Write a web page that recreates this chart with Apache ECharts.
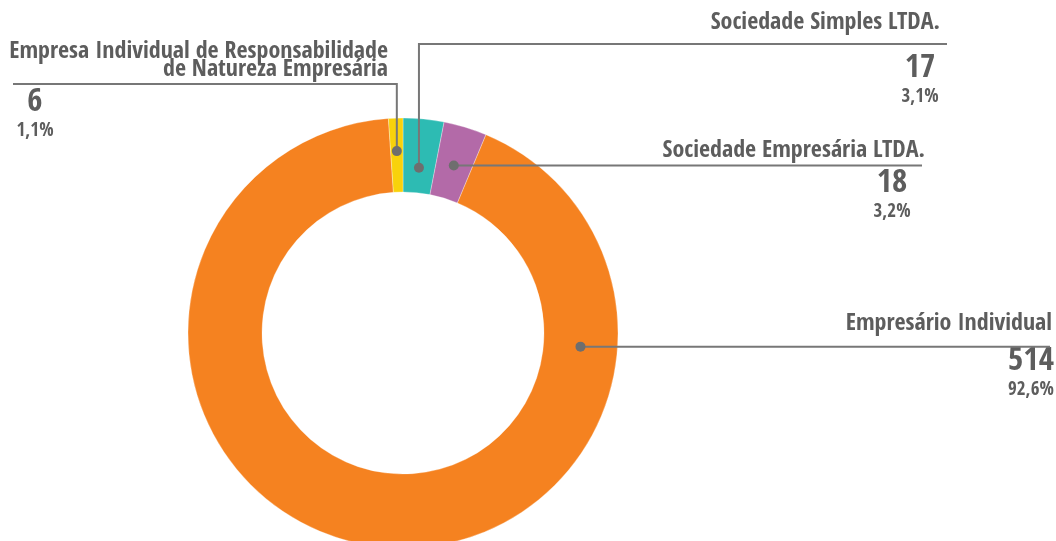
<!DOCTYPE html>
<html>
<head>
<meta charset="utf-8">
<script src="https://cdn.jsdelivr.net/npm/echarts@6/dist/echarts.min.js"></script>
<style>
    html, body { margin: 0; background: #fff; }
    #main { width: 1056px; height: 541px; }
</style>
</head>
<body>
<div id="main"></div>
<script>
// dados do gráfico
var categories = [
    'Sociedade Simples LTDA.',
    'Sociedade Empresária LTDA.',
    'Empresário Individual',
    'Empresa Individual de Responsabilidade\nde Natureza Empresária'
];
var values = [17, 18, 514, 6];
var colors = ['#2dbbb3', '#b36aa8', '#f58220', '#f8d20b'];

// posição das chamadas (só estilo)
var cx = 403, cy = 333, rOut = 215, rIn = 141;
var callouts = [
    { dotR: 166, bendY: 44, endX: 947, nameX: 940, nameY: 23, nameLH: 24, valX: 920, valY: 52 },
    { dotR: 175, endX: 922, nameX: 925, nameY: 151, nameLH: 24, valX: 892, valY: 167 },
    { dotR: 178, angle: 94.4, endX: 1050, nameX: 1052, nameY: 323.5, nameLH: 24, valX: 1031, valY: 345 },
    { dotR: 182, bendY: 84, endX: 13, nameX: 388, nameY: 61, nameLH: 18, valX: 35, valY: 86 }
];

var font = "'Open Sans Condensed', 'Roboto Condensed', sans-serif";
var total = values.reduce(function (a, b) { return a + b; }, 0);

function pct(v) {
    return (v / total * 100).toFixed(1).replace('.', ',') + '%';
}

// ponto da bolinha dentro da fatia
function anchor(i) {
    var before = 0;
    for (var k = 0; k < i; k++) before += values[k];
    var c = callouts[i];
    var a = c.angle != null ? c.angle : (before + values[i] / 2) / total * 360;
    var rad = a * Math.PI / 180;
    return [cx + c.dotR * Math.sin(rad), cy - c.dotR * Math.cos(rad)];
}

function linePoints(i) {
    var p = anchor(i), c = callouts[i];
    if (c.bendY != null) {
        return [p, [p[0], c.bendY], [c.endX, c.bendY]];
    }
    return [p, [c.endX, p[1]]];
}

var chart = echarts.init(document.getElementById('main'));

var pieData = categories.map(function (name, i) {
    return {
        name: name,
        value: values[i],
        itemStyle: { color: colors[i] },
        label: { lineHeight: callouts[i].nameLH }
    };
});

// linhas de chamada e bolinhas por cima do anel
var guides = [];
values.forEach(function (v, i) {
    var p = anchor(i);
    guides.push({
        type: 'polyline',
        z: 99,
        silent: true,
        shape: { points: linePoints(i) },
        style: { stroke: '#777', lineWidth: 2, fill: null }
    });
    guides.push({
        type: 'circle',
        z: 100,
        silent: true,
        shape: { cx: p[0], cy: p[1], r: 5 },
        style: { fill: '#6e6e6e' }
    });
});

var option = {
    animation: false,
    series: [
        {
            type: 'pie',
            center: [cx, cy],
            radius: [rIn, rOut],
            startAngle: 90,
            clockwise: true,
            avoidLabelOverlap: false,
            silent: true,
            itemStyle: { borderColor: 'rgba(255,255,255,0.6)', borderWidth: 0.5 },
            label: {
                show: true,
                formatter: '{b}',
                fontFamily: font,
                fontSize: 24,
                fontWeight: 'bold',
                color: '#5d5d5d'
            },
            labelLine: { show: false },
            labelLayout: function (params) {
                var c = callouts[params.dataIndex];
                return { x: c.nameX, y: c.nameY, align: 'right', verticalAlign: 'middle' };
            },
            data: pieData
        },
        {
            // série invisível só para os valores
            type: 'pie',
            center: [cx, cy],
            radius: [rIn, rOut],
            startAngle: 90,
            clockwise: true,
            avoidLabelOverlap: false,
            silent: true,
            itemStyle: { color: 'rgba(0,0,0,0)', borderWidth: 0 },
            label: {
                show: true,
                formatter: function (p) {
                    return '{v|' + p.value + '}\n{p|' + pct(p.value) + '}';
                },
                align: 'center',
                rich: {
                    v: { fontFamily: font, fontSize: 33, fontWeight: 'bold', color: '#5d5d5d', lineHeight: 32, align: 'center' },
                    p: { fontFamily: font, fontSize: 19, fontWeight: 'bold', color: '#5d5d5d', lineHeight: 26, align: 'center' }
                }
            },
            labelLine: { show: false },
            labelLayout: function (params) {
                var c = callouts[params.dataIndex];
                return { x: c.valX, y: c.valY, align: 'center', verticalAlign: 'top' };
            },
            data: categories.map(function (name, i) {
                return { name: name, value: values[i] };
            })
        }
    ],
    graphic: guides
};

chart.setOption(option);
</script>
</body>
</html>
